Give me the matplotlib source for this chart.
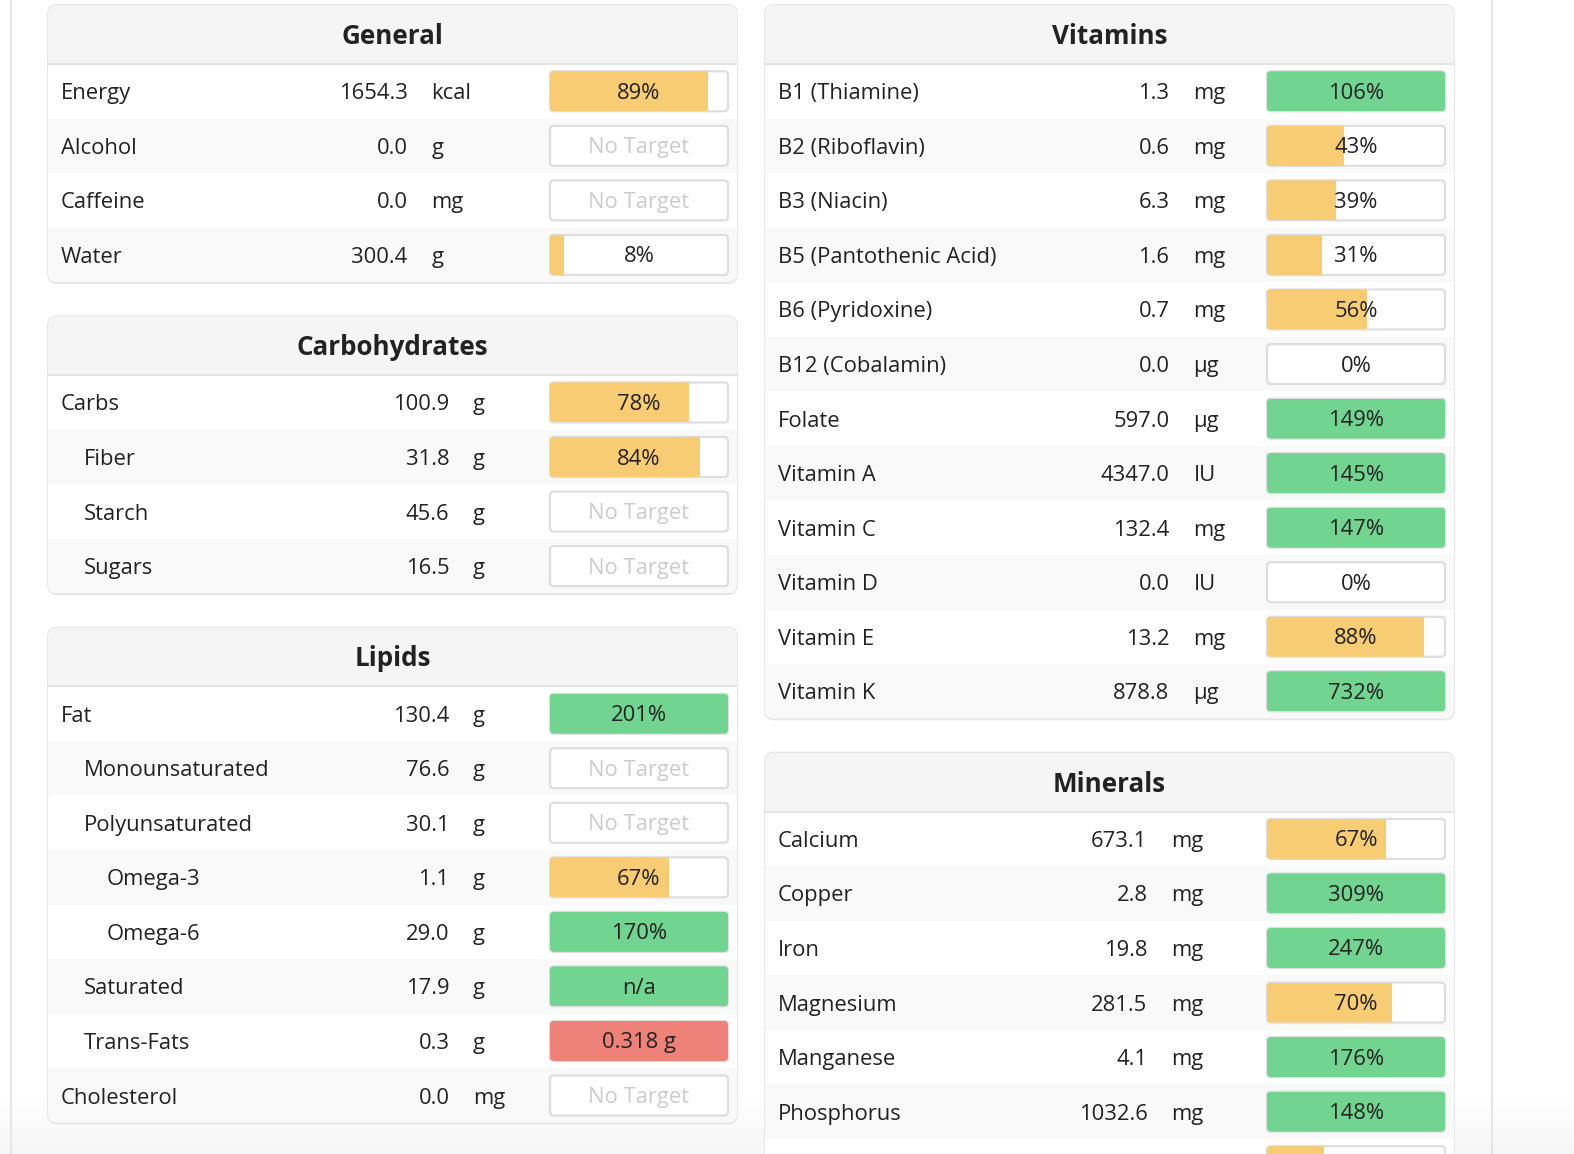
import numpy as np
import matplotlib.pyplot as plt
from matplotlib.patches import FancyBboxPatch, Rectangle

plt.rcParams['font.family'] = ['Open Sans', 'DejaVu Sans']

# ---- data ----
general_names = ["Energy", "Alcohol", "Caffeine", "Water"]
general_amounts = [1654.3, 0.0, 0.0, 300.4]
general_units = ["kcal", "g", "mg", "g"]
general_pct = [89, None, None, 8]
general_indent = [0, 0, 0, 0]

carb_names = ["Carbs", "Fiber", "Starch", "Sugars"]
carb_amounts = [100.9, 31.8, 45.6, 16.5]
carb_units = ["g", "g", "g", "g"]
carb_pct = [78, 84, None, None]
carb_indent = [0, 1, 1, 1]

lipid_names = ["Fat", "Monounsaturated", "Polyunsaturated", "Omega-3",
               "Omega-6", "Saturated", "Trans-Fats", "Cholesterol"]
lipid_amounts = [130.4, 76.6, 30.1, 1.1, 29.0, 17.9, 0.3, 0.0]
lipid_units = ["g", "g", "g", "g", "g", "g", "g", "mg"]
lipid_pct = [201, None, None, 67, 170, "n/a", "0.318 g", None]
lipid_indent = [0, 1, 1, 2, 2, 1, 1, 0]

vit_names = ["B1 (Thiamine)", "B2 (Riboflavin)", "B3 (Niacin)",
             "B5 (Pantothenic Acid)", "B6 (Pyridoxine)", "B12 (Cobalamin)",
             "Folate", "Vitamin A", "Vitamin C", "Vitamin D", "Vitamin E",
             "Vitamin K"]
vit_amounts = [1.3, 0.6, 6.3, 1.6, 0.7, 0.0, 597.0, 4347.0, 132.4, 0.0,
               13.2, 878.8]
vit_units = ["mg", "mg", "mg", "mg", "mg", "µg", "µg", "IU", "mg", "IU",
             "mg", "µg"]
vit_pct = [106, 43, 39, 31, 56, 0, 149, 145, 147, 0, 88, 732]
vit_indent = [0] * 12

# last row is cut off by the bottom of the picture (only its bar top shows)
min_names = ["Calcium", "Copper", "Iron", "Magnesium", "Manganese",
             "Phosphorus", "Potassium"]
min_amounts = [673.1, 2.8, 19.8, 281.5, 4.1, 1032.6, 1502.4]
min_units = ["mg", "mg", "mg", "mg", "mg", "mg", "mg"]
min_pct = [67, 309, 247, 70, 176, 148, 32]
min_indent = [0] * 7

# ---- style ----
W, H = 1574, 1154
ROW_H = 54.55
HEAD_H = 59
GAP = 34
TXT = "#222222"
ORANGE = "#f7cc73"
GREEN = "#72d491"
RED = "#ee8278"
BORDER = "#dedede"
PX = 0.72  # px -> pt at 100 dpi
FS = 22 * PX

fig = plt.figure(figsize=(W / 100, H / 100), dpi=100)
ax = fig.add_axes([0, 0, 1, 1])

# page frame and faint bottom fade
grad = np.linspace(1.0, 0.965, 60).reshape(-1, 1)
ax.imshow(np.dstack([grad, grad, grad]), extent=(0, W, H, 1094),
          aspect="auto", zorder=-2)
ax.set_xlim(0, W)
ax.set_ylim(H, 0)
ax.axis("off")
ax.axvline(10.5, color="#e6e6e6", lw=1.5, zorder=-1)
ax.axvline(1492, color="#e6e6e6", lw=1.5, zorder=-1)


def draw_bar(x0, yc, pct, show_text=True):
    bw, bh = 178, 40
    outer = FancyBboxPatch((x0, yc - bh / 2), bw, bh,
                           boxstyle="round,pad=0,rounding_size=4",
                           fc="white", ec=BORDER, lw=1.6, zorder=4)
    ax.add_patch(outer)
    if pct is None:
        if show_text:
            ax.text(x0 + bw / 2, yc + 2, "No Target", ha="center",
                    va="center", color="#cccccc", fontsize=FS, zorder=6)
        return
    if isinstance(pct, str):
        color = RED if pct.endswith("g") else GREEN
        frac, label = 1.0, pct
    else:
        color = GREEN if pct >= 100 else ORANGE
        frac, label = min(pct, 100) / 100, f"{pct}%"
    if frac > 0:
        fill = Rectangle((x0, yc - bh / 2), bw * frac, bh, fc=color,
                         ec="none", zorder=5)
        fill.set_clip_path(outer)
        ax.add_patch(fill)
    if show_text:
        ax.text(x0 + bw / 2, yc + 2, label, ha="center", va="center",
                color=TXT, fontsize=FS, zorder=6)


def draw_panel(x0, top, title, names, amounts, units, pcts, indents,
               val_x, unit_x, width=689):
    n = len(names)
    height = HEAD_H + n * ROW_H
    shadow = FancyBboxPatch((x0, top + 1.8), width, height,
                            boxstyle="round,pad=0,rounding_size=9",
                            fc="#e8e8e8", ec="none", zorder=0)
    ax.add_patch(shadow)
    panel = FancyBboxPatch((x0, top), width, height,
                           boxstyle="round,pad=0,rounding_size=9",
                           fc="white", ec="#e4e4e4", lw=1.2, zorder=1)
    ax.add_patch(panel)
    head = Rectangle((x0, top), width, HEAD_H, fc="#f5f5f5", ec="none",
                     zorder=2)
    head.set_clip_path(panel)
    ax.add_patch(head)
    ax.plot([x0, x0 + width], [top + HEAD_H, top + HEAD_H],
            color="#e4e4e4", lw=1.5, zorder=3)
    ax.text(x0 + width / 2, top + HEAD_H / 2 + 2, title, ha="center",
            va="center", fontsize=26 * PX, fontweight="bold", color=TXT,
            zorder=6)
    for i in range(n):
        y = top + HEAD_H + i * ROW_H
        yc = y + ROW_H / 2
        bg = Rectangle((x0, y), width, ROW_H,
                       fc="white" if i % 2 == 0 else "#f9f9f9",
                       ec="none", zorder=2)
        bg.set_clip_path(panel)
        ax.add_patch(bg)
        # rows whose text falls below the picture edge show only the bar top
        visible = yc - 8 < H
        if visible:
            ax.text(x0 + 13 + 22.6 * indents[i], yc + 2.5, names[i],
                    ha="left", va="center", fontsize=FS, color=TXT, zorder=6)
            ax.text(val_x, yc + 2.5, f"{amounts[i]:.1f}", ha="right",
                    va="center", fontsize=FS, color=TXT, zorder=6)
            ax.text(unit_x, yc + 2.5, units[i], ha="left", va="center",
                    fontsize=FS, color=TXT, zorder=6)
        draw_bar(x0 + 502, yc, pcts[i], show_text=visible)
    return top + height


y = 5
y = draw_panel(48, y, "General", general_names, general_amounts,
               general_units, general_pct, general_indent, 407.5, 431.5)
y = draw_panel(48, y + GAP, "Carbohydrates", carb_names, carb_amounts,
               carb_units, carb_pct, carb_indent, 449.5, 473)
draw_panel(48, y + GAP, "Lipids", lipid_names, lipid_amounts,
           lipid_units, lipid_pct, lipid_indent, 449.5, 473)

y = 5
y = draw_panel(765, y, "Vitamins", vit_names, vit_amounts, vit_units,
               vit_pct, vit_indent, 1169.5, 1193.5)
draw_panel(765, y + GAP, "Minerals", min_names, min_amounts, min_units,
           min_pct, min_indent, 1147.5, 1171.5)

fig.savefig("out.png", dpi=100)
